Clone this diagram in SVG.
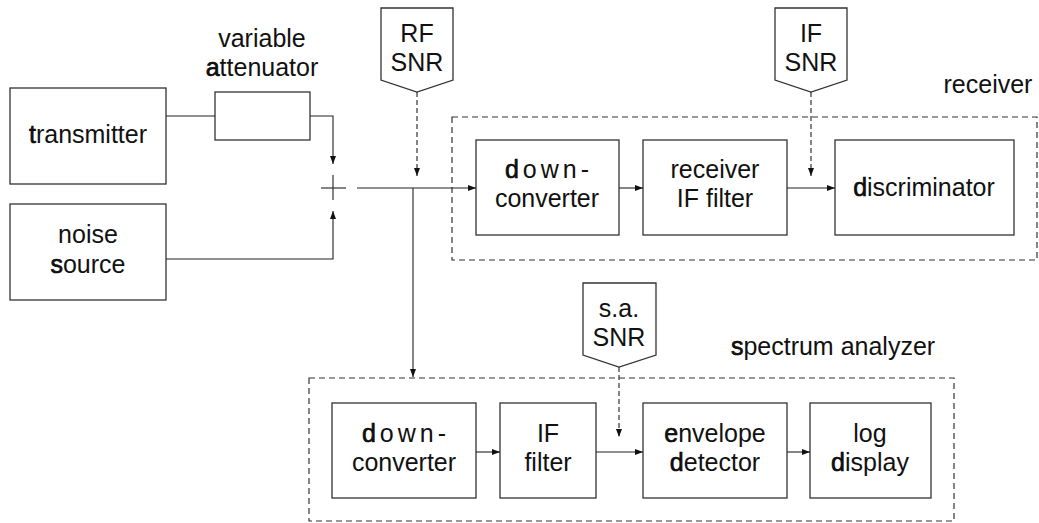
<svg xmlns="http://www.w3.org/2000/svg" width="1039" height="523" viewBox="0 0 1039 523">
<defs>
<style>
text{font-family:"Liberation Sans",Arial,sans-serif;font-size:25px;fill:#111;text-anchor:middle}
.b{stroke:#000;stroke-width:0.6}
.sp{letter-spacing:4px}
.box{fill:#fff;stroke:#333;stroke-width:1.3}
.grp{fill:none;stroke:#333;stroke-width:1.2;stroke-dasharray:6 4}
.ln{fill:none;stroke:#222;stroke-width:1.1}
.dl{fill:none;stroke:#222;stroke-width:1.1;stroke-dasharray:5 3}
</style>
<marker id="ah" markerUnits="userSpaceOnUse" markerWidth="9" markerHeight="7" refX="8" refY="3" orient="auto">
<path d="M0,0 L8,3 L0,6 Z" fill="#111"/>
</marker>
</defs>
<rect width="1039" height="523" fill="#fff"/>

<g id="receiver-group">
<rect class="grp" x="452" y="117" width="585" height="143"/>
<text x="988" y="93">receiver</text>
</g>
<g id="sa-group">
<rect class="grp" x="309" y="378" width="645" height="143"/>
<text x="833" y="355"><tspan class="b">s</tspan>pectrum analyzer</text>
</g>

<g id="transmitter">
<rect class="box" x="10" y="88" width="156" height="96"/>
<text x="88" y="143"><tspan class="b">t</tspan>ransmitter</text>
</g>
<g id="noise-source">
<rect class="box" x="10" y="204" width="156" height="96"/>
<text x="88" y="243">noise</text>
<text x="88" y="273"><tspan class="b">s</tspan>ource</text>
</g>
<g id="attenuator">
<rect class="box" x="215" y="92" width="95" height="48"/>
<text x="262" y="47">variable</text>
<text x="262" y="76"><tspan class="b">a</tspan>ttenuator</text>
</g>
<g id="summer">
<line class="ln" x1="321" y1="188" x2="346" y2="188"/>
<line class="ln" x1="333" y1="175" x2="333" y2="200"/>
</g>
<g id="rf-snr">
<path class="box" d="M381,8 H453 V80 L417,92 L381,80 Z"/>
<text x="417" y="42">RF</text>
<text x="417" y="71">SNR</text>
</g>
<g id="if-snr">
<path class="box" d="M775,8 H847 V80 L811,92 L775,80 Z"/>
<text x="811" y="42">IF</text>
<text x="811" y="71">SNR</text>
</g>
<g id="sa-snr">
<path class="box" d="M583,283 H656 V355 L619,367 L583,355 Z"/>
<text x="619" y="317">s.a.</text>
<text x="619" y="346">SNR</text>
</g>

<g id="rx-downconverter">
<rect class="box" x="476" y="140" width="143" height="95"/>
<text x="549" y="178" class="sp"><tspan class="b">d</tspan>own-</text>
<text x="547" y="207">converter</text>
</g>
<g id="rx-if-filter">
<rect class="box" x="643" y="140" width="144" height="95"/>
<text x="715" y="178">receiver</text>
<text x="715" y="207">IF filter</text>
</g>
<g id="discriminator">
<rect class="box" x="835" y="140" width="179" height="95"/>
<text x="924" y="196"><tspan class="b">d</tspan>iscriminator</text>
</g>

<g id="sa-downconverter">
<rect class="box" x="332" y="403" width="144" height="95"/>
<text x="406" y="442" class="sp"><tspan class="b">d</tspan>own-</text>
<text x="404" y="471">converter</text>
</g>
<g id="sa-if-filter">
<rect class="box" x="500" y="403" width="96" height="95"/>
<text x="548" y="442">IF</text>
<text x="548" y="471">filter</text>
</g>
<g id="envelope-detector">
<rect class="box" x="643" y="403" width="144" height="95"/>
<text x="715" y="442"><tspan class="b">e</tspan>nvelope</text>
<text x="715" y="471"><tspan class="b">d</tspan>etector</text>
</g>
<g id="log-display">
<rect class="box" x="810" y="403" width="121" height="95"/>
<text x="870" y="442">log</text>
<text x="870" y="471"><tspan class="b">d</tspan>isplay</text>
</g>

<g id="connectors">
<line class="ln" x1="166" y1="116" x2="215" y2="116"/>
<path class="ln" d="M310,116 H333 V164" marker-end="url(#ah)"/>
<path class="ln" d="M166,259 H333 V211" marker-end="url(#ah)"/>
<path class="ln" d="M357,188 H476" marker-end="url(#ah)"/>
<path class="ln" d="M413,188 V377" marker-end="url(#ah)"/>
<path class="dl" d="M417,92 V176" marker-end="url(#ah)"/>
<path class="ln" d="M619,188 H643" marker-end="url(#ah)"/>
<path class="ln" d="M787,188 H835" marker-end="url(#ah)"/>
<path class="dl" d="M811,92 V176" marker-end="url(#ah)"/>
<path class="ln" d="M476,452 H500" marker-end="url(#ah)"/>
<path class="ln" d="M596,452 H643" marker-end="url(#ah)"/>
<path class="ln" d="M787,452 H810" marker-end="url(#ah)"/>
<path class="dl" d="M619,367 V437" marker-end="url(#ah)"/>
</g>
</svg>
